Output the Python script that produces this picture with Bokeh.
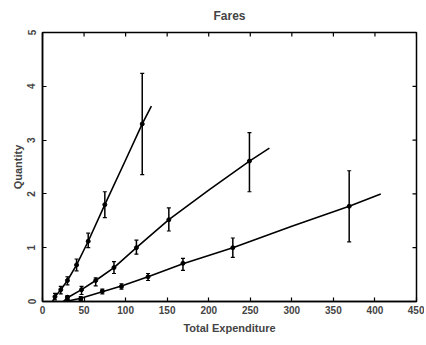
import math
from bokeh.plotting import figure
from bokeh.models import Range1d, FixedTicker, Whisker, TeeHead, ColumnDataSource
from bokeh.embed import file_html
from bokeh.resources import INLINE

# Data
s1_x = [15, 22, 30, 41, 55, 75, 120]
s1_y = [0.09, 0.22, 0.39, 0.68, 1.12, 1.80, 3.30]
s1_lo = [0.03, 0.14, 0.31, 0.57, 1.00, 1.56, 2.36]
s1_hi = [0.15, 0.28, 0.46, 0.79, 1.27, 2.04, 4.24]

s2_x = [30, 47, 64, 86, 113, 152, 249]
s2_y = [0.08, 0.22, 0.39, 0.63, 1.00, 1.52, 2.61]
s2_lo = [0.02, 0.13, 0.29, 0.52, 0.88, 1.31, 2.04]
s2_hi = [0.11, 0.28, 0.44, 0.74, 1.14, 1.74, 3.14]

s3_x = [30, 46, 72, 95, 127, 169, 229, 369]
s3_y = [0.03, 0.05, 0.19, 0.28, 0.46, 0.71, 1.00, 1.77]
s3_lo = [0.01, 0.02, 0.14, 0.23, 0.39, 0.58, 0.82, 1.11]
s3_hi = [0.06, 0.09, 0.23, 0.33, 0.52, 0.80, 1.18, 2.43]

f1_x = [12, 15, 22, 30, 41, 55, 75, 100, 120, 131]
f1_y = [0.0, 0.09, 0.22, 0.39, 0.68, 1.12, 1.80, 2.63, 3.30, 3.63]
f2_x = [25, 30, 47, 64, 86, 113, 152, 200, 249, 273]
f2_y = [0.0, 0.07, 0.22, 0.39, 0.63, 1.00, 1.52, 2.07, 2.61, 2.85]
f3_x = [28, 46, 72, 95, 127, 169, 229, 300, 369, 407]
f3_y = [0.0, 0.06, 0.18, 0.29, 0.46, 0.70, 1.00, 1.40, 1.77, 2.00]

x_ticks = [0, 50, 100, 150, 200, 250, 300, 350, 400, 450]
y_ticks = [0, 1, 2, 3, 4, 5]
X_MAX = 450
Y_MAX = 5

FONT = "Liberation Sans"

p = figure(width=424, height=341, output_backend="svg", toolbar_location=None,
           x_range=Range1d(0, X_MAX), y_range=Range1d(0, Y_MAX),
           title="Fares", min_border_left=42, min_border_right=8,
           min_border_top=29, min_border_bottom=40)
p.title.align = "center"
p.title.vertical_align = "top"
p.title.text_font = FONT
p.title.text_font_size = "12px"
p.title.text_font_style = "bold"
p.title.standoff = 16
p.grid.visible = False
p.outline_line_color = "black"
p.outline_line_width = 1.5
p.background_fill_color = "white"
p.border_fill_color = "white"

for ax, ticks in [(p.xaxis[0], x_ticks), (p.yaxis[0], y_ticks)]:
    ax.ticker = FixedTicker(ticks=ticks)
    ax.axis_line_color = "black"
    ax.axis_line_width = 1.5
    ax.major_tick_in = 4
    ax.major_tick_out = 0
    ax.major_tick_line_width = 1.2
    ax.minor_tick_line_color = None
    ax.major_label_text_font = FONT
    ax.major_label_text_font_style = "bold"
    ax.major_label_text_font_size = "10px"
    ax.axis_label_text_font = FONT
    ax.axis_label_text_font_style = "bold"
    ax.axis_label_text_font_size = "11px"

p.xaxis[0].axis_label = "Total Expenditure"
p.xaxis[0].major_label_standoff = 4
p.xaxis[0].axis_label_standoff = 5
p.yaxis[0].axis_label = "Quantity"
p.yaxis[0].major_label_standoff = 7
p.yaxis[0].axis_label_standoff = 1
p.yaxis[0].major_label_orientation = "vertical"

# inward tick marks on the top and right edges (half of each dash is clipped by the frame)
p.scatter(x_ticks, [Y_MAX] * len(x_ticks), marker="dash", size=8, angle=math.pi / 2,
          line_color="black", line_width=1.2)
p.scatter([X_MAX] * len(y_ticks), y_ticks, marker="dash", size=8,
          line_color="black", line_width=1.2)

for xs, ys, lo, hi, fx, fy in [(s1_x, s1_y, s1_lo, s1_hi, f1_x, f1_y),
                               (s2_x, s2_y, s2_lo, s2_hi, f2_x, f2_y),
                               (s3_x, s3_y, s3_lo, s3_hi, f3_x, f3_y)]:
    p.line(fx, fy, line_color="black", line_width=1.6)
    src = ColumnDataSource(dict(x=xs, y=ys, lo=lo, hi=hi))
    w = Whisker(source=src, base="x", lower="lo", upper="hi",
                line_color="black", line_width=1.5,
                upper_head=TeeHead(size=4, line_color="black", line_width=1.2),
                lower_head=TeeHead(size=4, line_color="black", line_width=1.2))
    p.add_layout(w)
    p.scatter("x", "y", source=src, size=4, color="black")

open("out.html", "w").write(file_html(p, INLINE))
